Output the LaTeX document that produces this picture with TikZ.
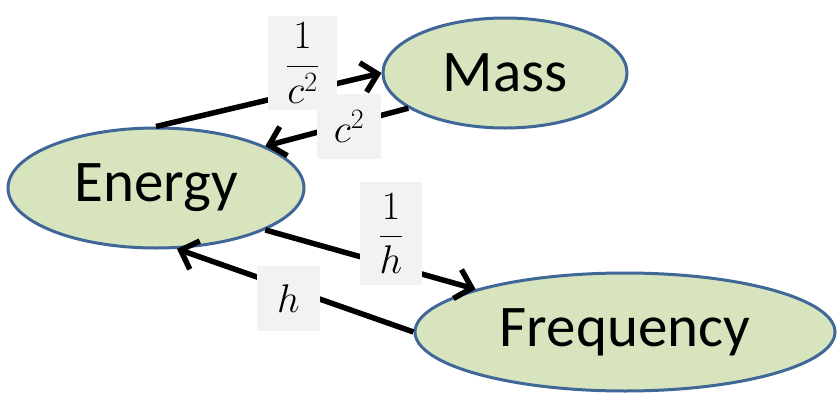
\documentclass[tikz,border=0pt]{standalone}
\usepackage{fix-cm}
\usepackage{fontspec}
\setmainfont{Carlito}
\usetikzlibrary{shapes.geometric,arrows.meta}
\definecolor{ellfill}{HTML}{D7E4BD}
\definecolor{elldraw}{HTML}{3F6797}
\definecolor{lblfill}{HTML}{F2F2F2}
\tikzset{
  ell/.style={ellipse, draw=elldraw, fill=ellfill, line width=3pt, inner sep=0pt,
    font=\fontsize{59}{60}\selectfont},
  conn/.style={line width=5.5pt, -{Straight Barb[length=15pt,width=30pt,line width=5.5pt]}},
  lbl/.style={fill=lblfill, inner sep=0pt, font=\fontsize{40}{42}\selectfont}
}
\begin{document}
\begin{tikzpicture}[x=1pt,y=-1pt]
\useasboundingbox (0,0) rectangle (839,394);
\node[ell, minimum width=244pt, minimum height=110pt] (mass) at (505,73) {Mass};
\node[ell, minimum width=296pt, minimum height=120pt] (energy) at (156,188) {Energy};
\node[ell, minimum width=420pt, minimum height=118pt] (freq) at (625,332) {Frequency};
\draw[conn] (energy.north) -- (mass.west);
\draw[conn] (mass.200) -- (energy.21);
\draw[conn] (energy.-21) -- (freq.164);
\draw[conn] (freq.west) -- (energy.-71);
\node[lbl, minimum width=69pt, minimum height=94pt] (l1) at (302.5,63) {$\displaystyle\frac{1}{c^2}$};
\node[lbl, minimum width=64pt, minimum height=65pt] (l2) at (349,126.5) {$c^2$};
\node[lbl, minimum width=62pt, minimum height=103pt] (l3) at (391,233.5) {$\displaystyle\frac{1}{h}$};
\node[lbl, minimum width=63pt, minimum height=65pt] (l4) at (288.5,298.5) {$h$};
\end{tikzpicture}
\end{document}
